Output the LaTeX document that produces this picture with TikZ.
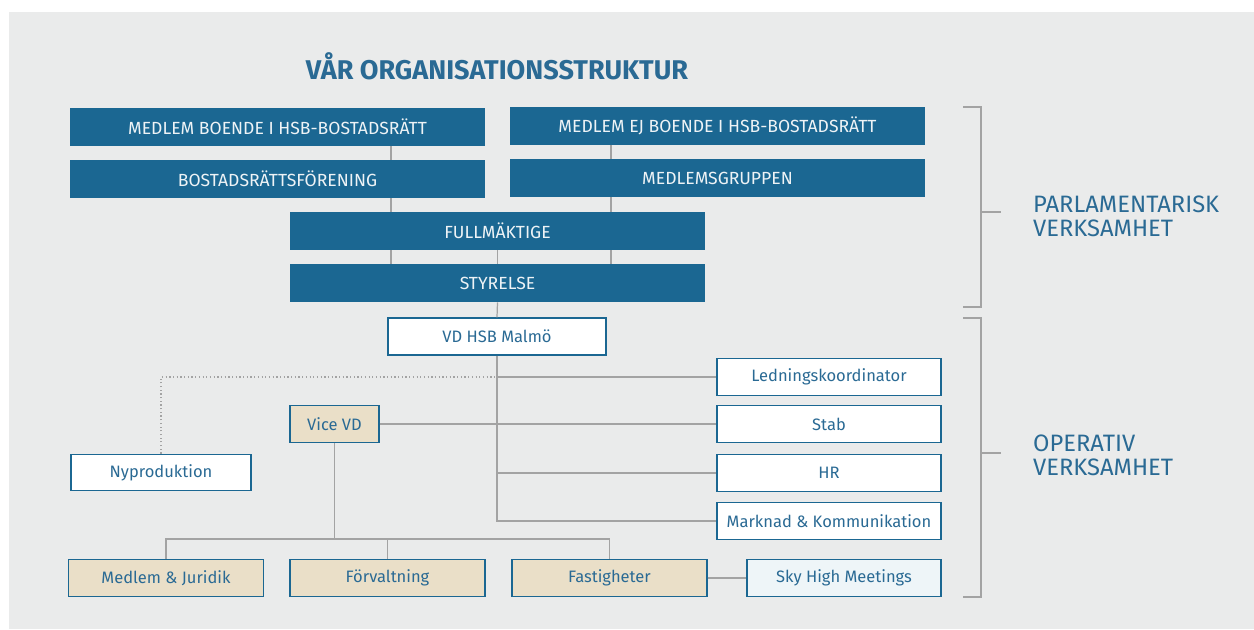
\documentclass[tikz,border=0pt]{standalone}
\usepackage{fontspec}
\setmainfont{Fira Sans}

\definecolor{hsbblue}{HTML}{1B6792}
\definecolor{hsbtext}{HTML}{2A6A94}
\definecolor{paper}{HTML}{EAEBEB}
\definecolor{sand}{HTML}{EADFC8}
\definecolor{ice}{HTML}{EEF5F8}
\definecolor{linegray}{HTML}{A3A3A3}
\definecolor{boxtext}{HTML}{EEF3F6}

\begin{document}
\begin{tikzpicture}[
    x=0.02cm, y=-0.02cm,
    font=\fontsize{9.4}{11}\selectfont,
    parl/.style={fill=hsbblue, text=boxtext, minimum width=8.3cm,
        minimum height=0.76cm, inner sep=0pt, font=\fontsize{10}{12}\selectfont},
    orgbox/.style={draw=hsbblue, line width=0.8pt, fill=white, text=hsbtext,
        minimum height=0.73cm, inner sep=0pt},
    staff/.style={orgbox, minimum width=4.48cm},
    dept/.style={orgbox, fill=sand, minimum width=3.9cm},
    conn/.style={draw=linegray, line width=0.7pt},
    brace/.style={draw=linegray, line width=0.8pt},
    side/.style={anchor=west, text=hsbtext, align=left,
        font=\fontsize{13.5}{13.7}\selectfont}
]

% ======================================
% Bakgrund
% ======================================
\useasboundingbox (0,0) rectangle (1254,629);
\fill[paper] (9,12) rectangle (1254,629);

\node[text=hsbtext, font=\fontsize{15.4}{17}\selectfont\bfseries]
    (title) at (497,66) {VÅR ORGANISATIONSSTRUKTUR};

% ======================================
% Parlamentarisk del
% ======================================
\node[parl] (boende)   at (277.5,127) {MEDLEM BOENDE I HSB-BOSTADSRÄTT};
\node[parl] (ejboende) at (717.5,126) {MEDLEM EJ BOENDE I HSB-BOSTADSRÄTT};
\node[parl] (brf)      at (277.5,179) {BOSTADSRÄTTSFÖRENING};
\node[parl] (grupp)    at (717.5,178) {MEDLEMSGRUPPEN};
\node[parl] (fullm)    at (497.5,231) {FULLMÄKTIGE};
\node[parl] (styr)     at (497.5,283) {STYRELSE};

% linjer upp till fullmäktige och styrelse
\coordinate (L) at (391,0);
\coordinate (R) at (611,0);
\draw[conn] (boende.south -| L) -- (brf.north -| L);
\draw[conn] (brf.south -| L) -- (fullm.north -| L);
\draw[conn] (fullm.south -| L) -- (styr.north -| L);
\draw[conn] (ejboende.south -| R) -- (grupp.north -| R);
\draw[conn] (grupp.south -| R) -- (fullm.north -| R);
\draw[conn] (fullm.south -| R) -- (styr.north -| R);
\draw[conn] (fullm.south) -- (styr.north);

% ======================================
% Operativ del
% ======================================
\node[orgbox, minimum width=4.36cm, minimum height=0.74cm] (vd) at (497,336.5) {VD HSB Malmö};
\draw[conn] (styr.south) -- (vd.north);

\node[staff] (ledn)  at (829,377) {Ledningskoordinator};
\node[staff] (stab)  at (829,424) {Stab};
\node[staff] (hr)    at (829,473) {HR};
\node[staff] (mk)    at (829,521) {Marknad \& Kommunikation};

\node[orgbox, minimum width=3.6cm] (nyprod) at (161,472.5) {Nyproduktion};
\node[orgbox, fill=sand, minimum width=1.78cm] (vice) at (334.5,424) {Vice VD};

\node[dept] (medjur) at (166,578)   {Medlem \& Juridik};
\node[dept] (forv)   at (387.5,578) {Förvaltning};
\node[dept] (fast)   at (609.5,578) {Fastigheter};
\node[orgbox, fill=ice, minimum width=3.88cm] (sky) at (844,578) {Sky High Meetings};

% stabsfunktioner under VD
\draw[conn] (vd.south) |- (mk.west);
\draw[conn] (vd.south |- ledn.west) -- (ledn.west);
\draw[conn] (vd.south |- hr.west) -- (hr.west);
\draw[conn] (vice.east) -- (stab.west);
\draw[linegray, line width=0.7pt, dash pattern=on 0.7pt off 1.4pt]
    (nyprod.north) |- (vd.south |- ledn.west);

% avdelningar under vice VD
\coordinate (split) at (334.5,539);
\draw[conn] (vice.south) -- (split);
\draw[conn] (medjur.north) |- (fast.north |- split) -- (fast.north);
\draw[conn] (forv.north) -- (forv.north |- split);
\draw[conn] (fast.east) -- (sky.west);

% ======================================
% Klamrar till höger
% ======================================
\draw[brace] (963,107) -- (981,107) -- (981,307) -- (963,307);
\draw[brace] (981,212) -- (1001,212);
\draw[brace] (963,318) -- (981,318) -- (981,597) -- (963,597);
\draw[brace] (981,453) -- (1001,453);

\node[side] (parltext) at (1027,216) {PARLAMENTARISK\\VERKSAMHET};
\node[side] (optext)   at (1027,455) {OPERATIV\\VERKSAMHET};

\end{tikzpicture}
\end{document}
